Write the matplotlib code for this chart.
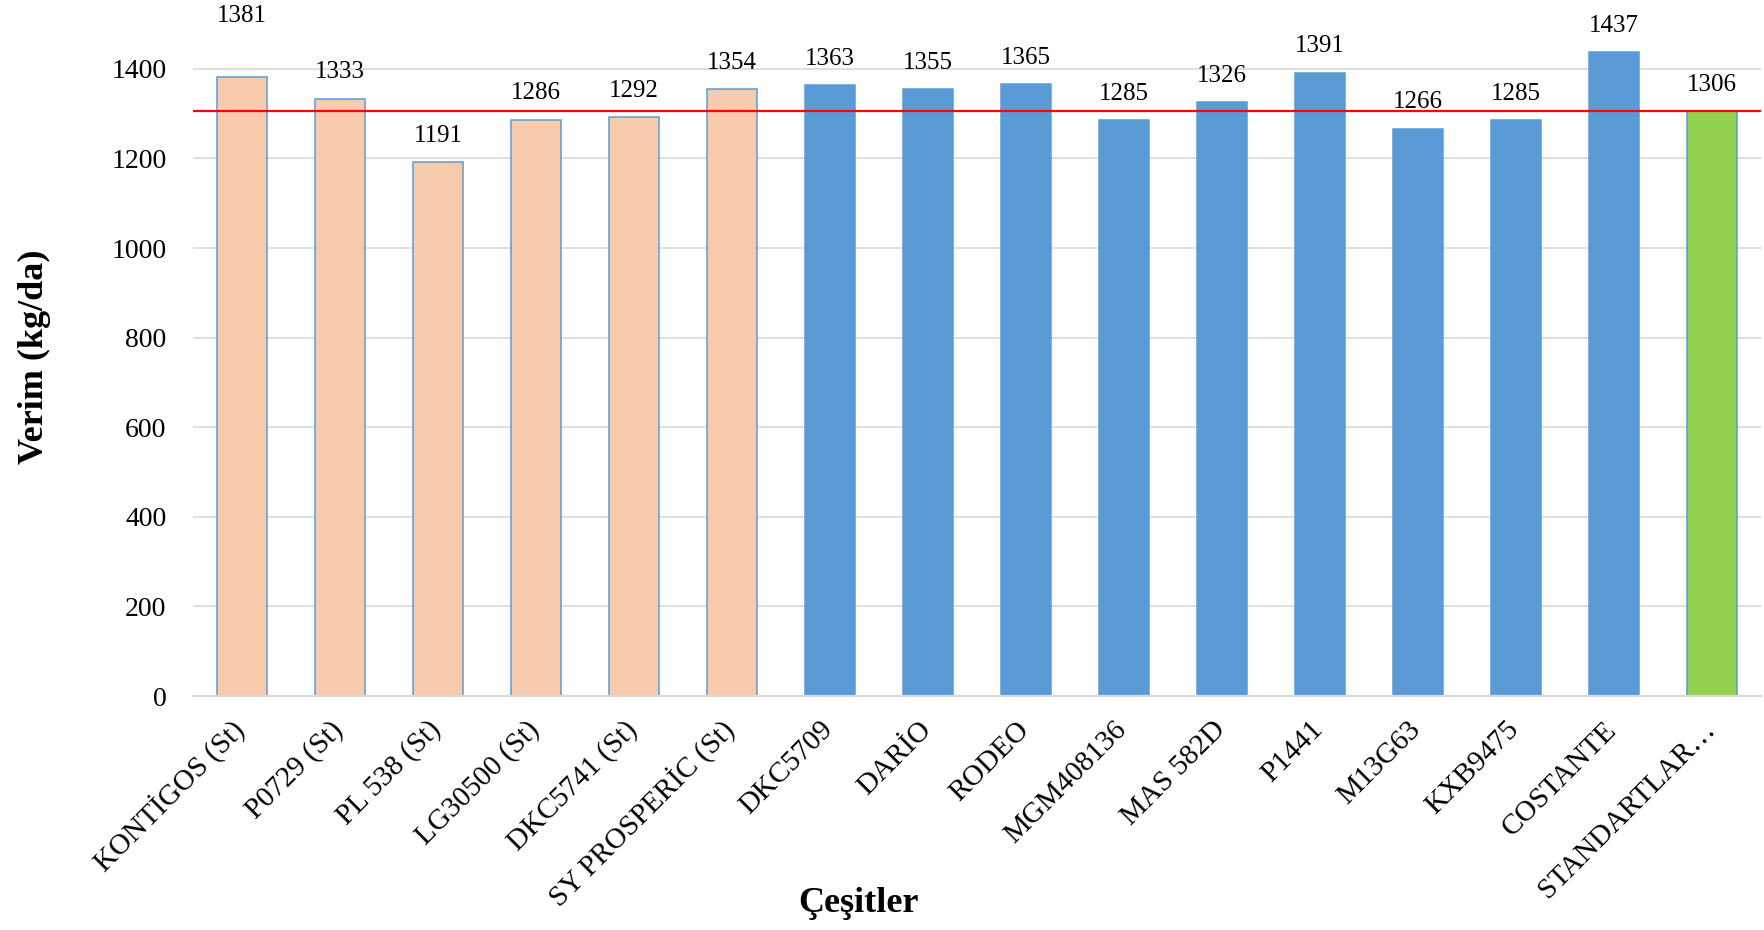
import matplotlib; matplotlib.use("Agg")
import matplotlib.pyplot as plt
from matplotlib.transforms import ScaledTranslation

varieties = ["KONTİGOS (St)", "P0729 (St)", "PL 538 (St)", "LG30500 (St)", "DKC5741 (St)",
             "SY PROSPERİC (St)", "DKC5709", "DARİO", "RODEO", "MGM408136", "MAS 582D",
             "P1441", "M13G63", "KXB9475", "COSTANTE", "STANDARTLAR…"]
yields = [1381, 1333, 1191, 1286, 1292, 1354, 1363, 1355, 1365, 1285, 1326, 1391, 1266, 1285, 1437, 1306]
groups = ["st"] * 6 + ["new"] * 9 + ["mean"]
standard_mean = 1306

fill = {"st": "#F8CBAD", "new": "#5B9BD5", "mean": "#92D050"}
edge = "#5B9BD5"
# label lift above bar top (points); first label was moved up in the original
lift = [44] + [19] * 15

plt.rcParams["font.family"] = ["Liberation Serif", "DejaVu Serif"]

fig = plt.figure(figsize=(17.64, 9.30), dpi=100)
ax = fig.add_axes([193 / 1764, 1 - 696 / 930, 1568 / 1764, 672 / 930])

x = range(len(varieties))
ax.bar(x, yields, width=0.51, color=[fill[g] for g in groups],
       edgecolor=edge, linewidth=1.1, zorder=2)
for i, v in enumerate(yields):
    ax.annotate(str(v), (i, v), xytext=(0, lift[i]), textcoords="offset points",
                ha="center", va="center", fontsize=18, annotation_clip=False)

ax.axhline(standard_mean, color="#FF0000", linewidth=1.6, zorder=4)

ax.set_xlim(-0.5, len(varieties) - 0.5)
ax.set_ylim(0, 1500)
ax.set_yticks(range(0, 1401, 200))
ax.yaxis.grid(True, color="#D9D9D9", linewidth=1.2, zorder=0)
ax.set_axisbelow(True)
for s in ["top", "right", "left"]:
    ax.spines[s].set_visible(False)
ax.spines["bottom"].set_color("#D9D9D9")
ax.spines["bottom"].set_linewidth(1.6)
ax.tick_params(axis="both", length=0)
ax.tick_params(axis="y", pad=19, labelsize=20)
ax.tick_params(axis="x", pad=25, labelsize=21)

ax.set_xticks(list(x))
ax.set_xticklabels(varieties)
shift = ScaledTranslation(0.04, 0, fig.dpi_scale_trans)
for lab in ax.get_xticklabels():
    lab.set_rotation(45)
    lab.set_ha("right")
    lab.set_va("baseline")
    lab.set_rotation_mode("anchor")
    lab.set_transform(lab.get_transform() + shift)

fig.text(34 / 1764, 1 - 357 / 930, "Verim (kg/da)", rotation=90, ha="center", va="center",
         fontsize=26, fontweight="bold")
fig.text(859 / 1764, 1 - 903 / 930, "Çeşitler", ha="center", va="center",
         fontsize=26, fontweight="bold")

fig.savefig("out.png", dpi=100)
